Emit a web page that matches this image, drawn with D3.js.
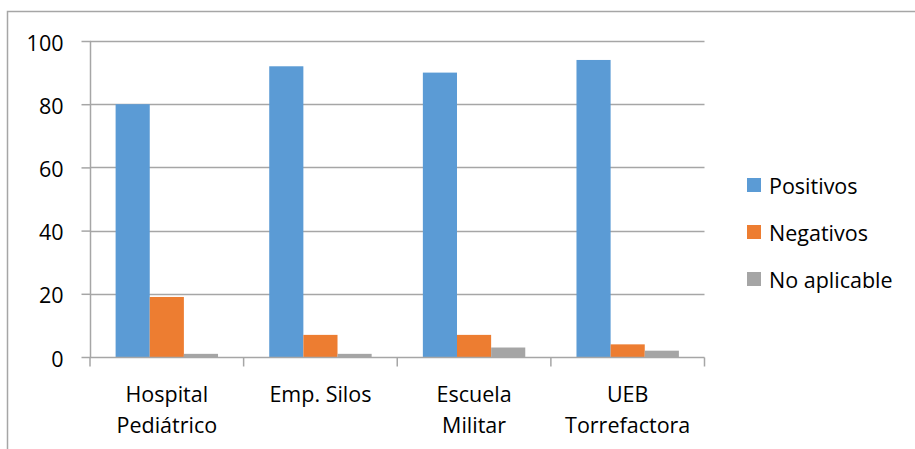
<!DOCTYPE html>
<html>
<head>
<meta charset="utf-8">
<script src="https://cdn.jsdelivr.net/npm/d3@7"></script>
<style>
  html, body { margin: 0; padding: 0; background: #fff; }
  svg { display: block; }
  text { font-family: "Open Sans", sans-serif; fill: #000; }
</style>
</head>
<body>
<script>
// Categories (two-line labels) and series values
const categories = ["Hospital Pediátrico", "Emp. Silos", "Escuela Militar", "UEB Torrefactora"];
const categoryLines = [["Hospital", "Pediátrico"], ["Emp. Silos"], ["Escuela", "Militar"], ["UEB", "Torrefactora"]];
const seriesNames = ["Positivos", "Negativos", "No aplicable"];
const positivos = [80, 92, 90, 94];
const negativos = [19, 7, 7, 4];
const noAplicable = [1, 1, 3, 2];
const yTicks = [0, 20, 40, 60, 80, 100];
const colors = ["#5B9BD5", "#ED7D31", "#A5A5A5"];

const seriesValues = [positivos, negativos, noAplicable];
const W = 915, H = 449;
const plot = { left: 90, right: 704.5, top: 41, bottom: 357 };
const fontSize = 21.5;

const svg = d3.select("body").append("svg").attr("width", W).attr("height", H);

// chart frame
svg.append("path")
  .attr("d", `M7.5,${H + 1} V11.5 H${W + 1}`)
  .attr("fill", "none").attr("stroke", "#A6A6A6").attr("stroke-width", 1.5);

const x0 = d3.scaleBand().domain(categories).range([plot.left, plot.right]).paddingInner(0).paddingOuter(0);
const x1 = d3.scaleBand().domain(seriesNames).range([0, x0.bandwidth()]).paddingOuter(0.75).paddingInner(0);
const y = d3.scaleLinear().domain([0, 100]).range([plot.bottom, plot.top]);

// gridlines
svg.append("g").selectAll("line").data(yTicks.filter(d => d > 0)).join("line")
  .attr("x1", plot.left).attr("x2", plot.right)
  .attr("y1", d => Math.round(y(d)) + 0.5).attr("y2", d => Math.round(y(d)) + 0.5)
  .attr("stroke", "#A6A6A6").attr("stroke-width", 1.5);

// bars
const groups = svg.append("g").selectAll("g").data(categories).join("g")
  .attr("transform", d => `translate(${x0(d)},0)`);
groups.selectAll("rect")
  .data((c, i) => seriesNames.map((s, j) => ({ s, v: seriesValues[j][i], j })))
  .join("rect")
  .attr("x", d => x1(d.s))
  .attr("width", x1.bandwidth())
  .attr("y", d => y(d.v))
  .attr("height", d => y(0) - y(d.v))
  .attr("fill", d => colors[d.j]);

// y axis
const yAxis = d3.axisLeft(y).tickValues(yTicks).tickSize(9).tickPadding(18);
const gy = svg.append("g").attr("transform", `translate(${plot.left + 0.5},0)`).call(yAxis);
gy.select(".domain").attr("stroke", "#A6A6A6").attr("stroke-width", 1.5).attr("d", `M0,${plot.top}V${plot.bottom}`);
gy.selectAll(".tick line").attr("stroke", "#A6A6A6").attr("stroke-width", 1.5);
gy.selectAll(".tick text").attr("font-size", fontSize).attr("font-family", "'Open Sans', sans-serif")
  .attr("fill", "#000").attr("dy", "0.42em");

// x axis
const xAxis = d3.axisBottom(x0).tickSize(0).tickFormat("");
const gx = svg.append("g").attr("transform", `translate(0,${plot.bottom + 0.5})`).call(xAxis);
gx.select(".domain").attr("stroke", "#A6A6A6").attr("stroke-width", 1.5).attr("d", `M${plot.left},0H${plot.right}`);
const bounds = categories.map(c => x0(c)).concat([plot.right]);
gx.selectAll(".sep").data(bounds).join("line").attr("class", "sep")
  .attr("x1", d => d).attr("x2", d => d).attr("y1", 0).attr("y2", 9)
  .attr("stroke", "#A6A6A6").attr("stroke-width", 1.5);

// category labels
categories.forEach((c, i) => {
  const cx = x0(c) + x0.bandwidth() / 2;
  categoryLines[i].forEach((line, k) => {
    svg.append("text").attr("x", cx).attr("y", 402 + k * 31)
      .attr("text-anchor", "middle").attr("font-size", fontSize).text(line);
  });
});

// legend
const legend = svg.append("g").selectAll("g").data(seriesNames).join("g")
  .attr("transform", (d, i) => `translate(747,${178 + i * 47})`);
legend.append("rect").attr("width", 14).attr("height", 14).attr("fill", (d, i) => colors[i]);
legend.append("text").attr("x", 22).attr("y", 15.5).attr("font-size", fontSize).text(d => d);
</script>
</body>
</html>
